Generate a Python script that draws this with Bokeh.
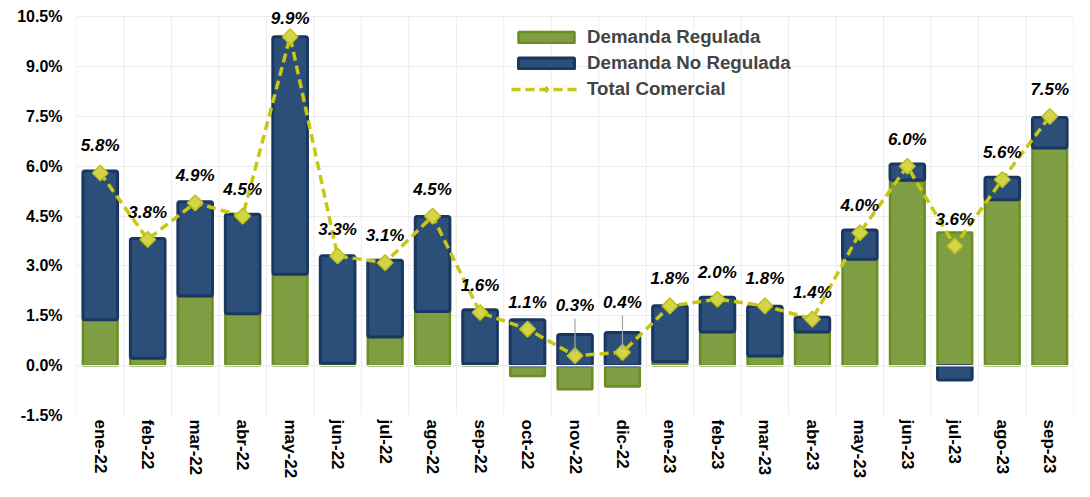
import numpy as np
from bokeh.plotting import figure
from bokeh.models import (ColumnDataSource, Range1d, FixedTicker, PrintfTickFormatter,
                          LabelSet, Legend, LegendItem, Span)
from bokeh.core.properties import value
from bokeh.embed import file_html
from bokeh.resources import INLINE

# ---------------- data ----------------
categories = ["ene-22", "feb-22", "mar-22", "abr-22", "may-22", "jun-22", "jul-22",
              "ago-22", "sep-22", "oct-22", "nov-22", "dic-22", "ene-23", "feb-23",
              "mar-23", "abr-23", "may-23", "jun-23", "jul-23", "ago-23", "sep-23"]
demanda_regulada = [1.38, 0.22, 2.10, 1.56, 2.75, 0.07, 0.86, 1.63, 0.05, -0.31, -0.71,
                    -0.63, 0.12, 1.01, 0.29, 1.01, 3.20, 5.58, 4.01, 4.99, 6.55]
demanda_no_regulada = [4.48, 3.61, 2.83, 3.00, 7.15, 3.24, 2.31, 2.86, 1.63, 1.38, 0.94,
                       1.00, 1.68, 1.05, 1.50, 0.45, 0.88, 0.49, -0.43, 0.68, 0.92]
total_comercial = [5.8, 3.8, 4.9, 4.5, 9.9, 3.3, 3.1, 4.5, 1.6, 1.1, 0.3, 0.4, 1.8, 2.0,
                   1.8, 1.4, 4.0, 6.0, 3.6, 5.6, 7.5]
y_ticks = [-1.5, 0.0, 1.5, 3.0, 4.5, 6.0, 7.5, 9.0, 10.5]
leader_categories = ["nov-22", "dic-22"]

# ---------------- styles ----------------
FONT = "Liberation Sans"
GREEN_FILL, GREEN_LINE = "#7F9E43", "#6A8E22"
BLUE_FILL, BLUE_LINE = "#2B4F79", "#1A3762"
LINE_COLOR = "#C6C813"
MARK_FILL, MARK_LINE = "#D3D446", "#BEC01C"
GRID = "#ECECEC"

n = len(categories)
x = np.arange(n)
reg = np.array(demanda_regulada)
nreg = np.array(demanda_no_regulada)
tot = np.array(total_comercial)

# diverging stacking: positives stack on positives, negatives on negatives
blue_bottom = np.where(nreg >= 0, np.maximum(reg, 0), np.minimum(reg, 0))
blue_top = blue_bottom + nreg

label_dy = np.full(n, 27.0)
label_dy[categories.index("may-22")] = 18.0
for c in leader_categories:
    label_dy[categories.index(c)] = 50.0

src = ColumnDataSource(dict(
    x=x, reg=reg, bb=blue_bottom, bt=blue_top, tot=tot,
    txt=[f"{v:.1f}%" for v in tot], dy=label_dy,
))

p = figure(width=1074, height=481, output_backend="svg", toolbar_location=None,
           x_range=Range1d(-0.5, n - 0.5), y_range=Range1d(y_ticks[0], y_ticks[-1] + 0.25),
           min_border_left=76, min_border_right=1, min_border_top=8, min_border_bottom=60)
p.outline_line_color = None
p.background_fill_color = "white"

# vertical grid lines between categories (spanning the tick range only)
bx = np.arange(n + 1) - 0.5
p.segment(x0=bx, y0=y_ticks[0], x1=bx, y1=y_ticks[-1], line_color=GRID, line_width=1)

g = p.vbar(x="x", bottom=0, top="reg", width=0.73, source=src,
           fill_color=GREEN_FILL, line_color=GREEN_LINE, line_width=2.5)
b = p.vbar(x="x", bottom="bb", top="bt", width=0.73, source=src,
           fill_color=BLUE_FILL, line_color=BLUE_LINE, line_width=3, border_radius=2)

zero = Span(location=0, dimension="width", line_color="#F0F0F0", line_width=1.5)
p.add_layout(zero)

lr = p.line(x="x", y="tot", source=src, line_color=LINE_COLOR, line_width=3.5,
            line_dash="9 5")
sr = p.scatter(x="x", y="tot", source=src, marker="square", angle=np.pi / 4, size=11,
               fill_color=MARK_FILL, line_color=MARK_LINE, line_width=1.5)
# legend-only diamond proxy (NaN position, never drawn in the plot)
leg_marker = p.scatter(x=[np.nan], y=[np.nan], marker="diamond", size=17,
                       fill_color=MARK_FILL, line_color=MARK_LINE, line_width=1.5)

# leader lines
li = [categories.index(c) for c in leader_categories]
lsrc = ColumnDataSource(dict(x=x[li], y0=tot[li] + 0.08, y1=tot[li] + 1.12))
p.segment(x0="x", y0="y0", x1="x", y1="y1", source=lsrc, line_color="#A6A6A6", line_width=1.2)

labels = LabelSet(x="x", y="tot", text="txt", y_offset="dy", source=src,
                  text_align="center", text_baseline="middle",
                  text_font=value(FONT), text_font_size="17px",
                  text_font_style="bold italic", text_color="black")
p.add_layout(labels)

# axes
p.yaxis.ticker = FixedTicker(ticks=y_ticks)
p.yaxis.formatter = PrintfTickFormatter(format="%.1f%%")
p.xaxis.ticker = FixedTicker(ticks=list(x))
p.xaxis.major_label_overrides = {int(i): c for i, c in zip(x, categories)}
p.xaxis.major_label_orientation = "vertical"
for ax in (p.xaxis, p.yaxis):
    ax.axis_line_color = None
    ax.major_tick_line_color = None
    ax.minor_tick_line_color = None
    ax.major_tick_out = 0
    ax.major_tick_in = 0
    ax.major_label_text_font = FONT
    ax.major_label_text_font_style = "bold"
    ax.major_label_text_color = "black"
p.yaxis.major_label_text_font_size = "16px"
p.xaxis.major_label_text_font_size = "17px"
p.yaxis.major_label_standoff = 14
p.xaxis.major_label_standoff = 4

p.ygrid.ticker = FixedTicker(ticks=y_ticks)
p.ygrid.grid_line_color = GRID
p.xgrid.grid_line_color = None

legend = Legend(items=[
    LegendItem(label="Demanda Regulada", renderers=[g]),
    LegendItem(label="Demanda No Regulada", renderers=[b]),
    LegendItem(label="Total Comercial", renderers=[lr, leg_marker]),
], location=(431, 311))
legend.glyph_width = 70
legend.glyph_height = 14
legend.label_text_font = FONT
legend.label_text_font_style = "bold"
legend.label_text_font_size = "18.7px"
legend.label_standoff = 6
legend.spacing = 4
legend.padding = 4
legend.background_fill_alpha = 0
legend.border_line_alpha = 0
p.add_layout(legend)

open("out.html", "w").write(file_html(p, INLINE))
